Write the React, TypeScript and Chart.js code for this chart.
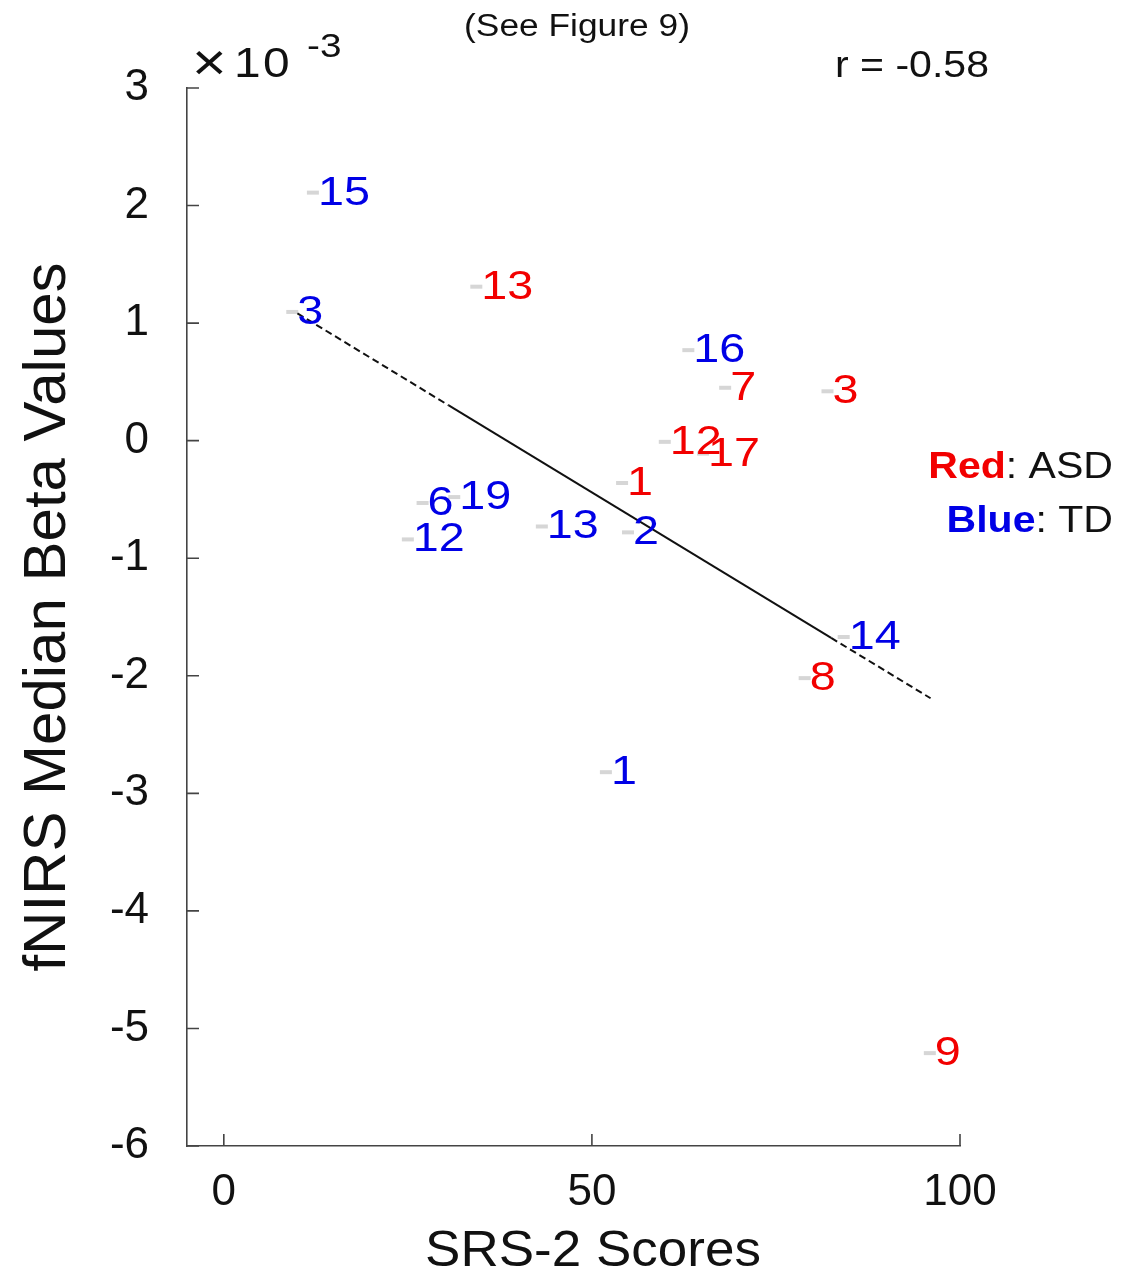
import { useEffect, useRef } from "react";
import { Chart, registerables } from "chart.js";
Chart.register(...registerables);

// ASD (red) participants
const asdLabels = ["13", "7", "3", "12", "17", "1", "8", "9"];
const asdX = [34.3, 68.1, 82.0, 59.9, 65.1, 54.1, 78.9, 95.9];
const asdY = [1.31, 0.45, 0.42, -0.01, -0.11, -0.36, -2.02, -5.21];
// TD (blue) participants
const tdLabels = ["15", "3", "16", "6", "19", "12", "13", "2", "14", "1"];
const tdX = [12.1, 9.3, 63.1, 27.0, 31.3, 25.0, 43.2, 54.9, 84.2, 51.9];
const tdY = [2.11, 1.095, 0.77, -0.53, -0.48, -0.84, -0.73, -0.78, -1.67, -2.82];
// regression line (dashed ends, solid middle)
const fitX = [10, 30.5, 82.5, 96];
const fitY = [1.083, 0.302, -1.678, -2.191];
const xTicks = [0, 50, 100];
const yTicks = [3, 2, 1, 0, -1, -2, -3, -4, -5, -6];

const FONT = "'Liberation Sans', Arial, Helvetica, sans-serif";
const RED = "#f20000";
const BLUE = "#0000e6";
const STRETCH = 1.14;

function stretchedText(
  ctx: CanvasRenderingContext2D,
  text: string,
  x: number,
  y: number,
  align: "left" | "right" | "center" = "left",
  stretch: number = STRETCH
) {
  ctx.save();
  ctx.translate(x, y);
  ctx.scale(stretch, 1);
  ctx.textAlign = align;
  ctx.fillText(text, 0, 0);
  ctx.restore();
}

const decorPlugin = {
  id: "decor",
  afterDatasetsDraw(chart: any) {
    const ctx: CanvasRenderingContext2D = chart.ctx;
    const xs = chart.scales.x;
    const ys = chart.scales.y;
    const area = chart.chartArea;
    // inward ticks
    ctx.save();
    ctx.strokeStyle = "#444";
    ctx.lineWidth = 1.6;
    ctx.beginPath();
    for (const v of xTicks) {
      const px = xs.getPixelForValue(v);
      ctx.moveTo(px, area.bottom);
      ctx.lineTo(px, area.bottom - 12);
    }
    for (const v of yTicks) {
      const py = ys.getPixelForValue(v);
      ctx.moveTo(area.left, py);
      ctx.lineTo(area.left + 12, py);
    }
    ctx.stroke();
    ctx.restore();

    // point labels
    ctx.save();
    ctx.font = `41px ${FONT}`;
    ctx.textBaseline = "alphabetic";
    const groups = [
      { idx: 1, labels: asdLabels, color: RED },
      { idx: 2, labels: tdLabels, color: BLUE },
    ];
    for (const g of groups) {
      const meta = chart.getDatasetMeta(g.idx);
      ctx.fillStyle = g.color;
      meta.data.forEach((el: any, i: number) => {
        stretchedText(ctx, g.labels[i], el.x + 5, el.y + 12);
      });
    }
    ctx.restore();

    // annotations
    ctx.save();
    ctx.fillStyle = "#111";
    ctx.textBaseline = "alphabetic";
    ctx.font = `31px ${FONT}`;
    stretchedText(ctx, "(See Figure 9)", 577, 36, "center");
    ctx.font = `52px ${FONT}`;
    stretchedText(ctx, "\u00d7", 192, 80);
    ctx.font = `42px ${FONT}`;
    stretchedText(ctx, "1", 234, 77);
    stretchedText(ctx, "0", 263, 77);
    ctx.font = `34px ${FONT}`;
    stretchedText(ctx, "-3", 307, 57);
    ctx.font = `36px ${FONT}`;
    stretchedText(ctx, "r = -0.58", 835, 77);

    // x axis title
    ctx.font = `50px ${FONT}`;
    stretchedText(ctx, "SRS-2 Scores", 593, 1266, "center", 1.06);

    // legend
    const legend = [
      { key: "Red", rest: ": ASD", color: RED, y: 478 },
      { key: "Blue", rest: ": TD", color: BLUE, y: 532 },
    ];
    for (const l of legend) {
      ctx.font = `36px ${FONT}`;
      const restW = ctx.measureText(l.rest).width * STRETCH;
      ctx.font = `bold 36px ${FONT}`;
      const keyW = ctx.measureText(l.key).width * STRETCH;
      const right = 1113;
      ctx.fillStyle = l.color;
      stretchedText(ctx, l.key, right - restW - keyW, l.y);
      ctx.font = `36px ${FONT}`;
      ctx.fillStyle = "#111";
      stretchedText(ctx, l.rest, right - restW, l.y);
    }
    ctx.restore();
  },
};

export default function App() {
  const ref = useRef<HTMLCanvasElement | null>(null);
  useEffect(() => {
    if (!ref.current) return;
    const fitPts = fitX.map((x, i) => ({ x, y: fitY[i] }));
    const lineBase = {
      type: "line" as const,
      showLine: true,
      pointRadius: 0,
      borderColor: "#111",
      borderWidth: 2,
      fill: false,
    };
    const pointBase = {
      pointStyle: "line" as const,
      pointRadius: 6,
      pointBorderWidth: 4,
      borderColor: "#d6d6d6",
      backgroundColor: "#d6d6d6",
    };
    const chart = new Chart(ref.current, {
      type: "scatter",
      data: {
        datasets: [
          { ...lineBase, label: "fit-a", data: [fitPts[0], fitPts[1]], borderDash: [7, 4] } as any,
          { ...pointBase, label: "ASD", data: asdX.map((x, i) => ({ x, y: asdY[i] })) } as any,
          { ...pointBase, label: "TD", data: tdX.map((x, i) => ({ x, y: tdY[i] })) } as any,
          { ...lineBase, label: "fit-b", data: [fitPts[1], fitPts[2]] } as any,
          { ...lineBase, label: "fit-c", data: [fitPts[2], fitPts[3]], borderDash: [7, 4] } as any,
        ],
      },
      options: {
        animation: false,
        responsive: false,
        devicePixelRatio: 1,
        layout: { padding: { top: 88, right: 179, left: 0, bottom: 0 } },
        plugins: {
          legend: { display: false },
          tooltip: { enabled: false },
          title: { display: false },
        },
        scales: {
          x: {
            type: "linear",
            min: -5,
            max: 100,
            afterBuildTicks: (s: any) => {
              s.ticks = xTicks.map((v) => ({ value: v }));
            },
            afterFit: (s: any) => {
              s.height = 130;
            },
            grid: { display: false },
            border: { display: true, color: "#444", width: 1.6 },
            ticks: {
              font: { family: FONT, size: 44 },
              color: "#111",
              padding: 12,
              maxRotation: 0,
            },
            title: { display: false },
          },
          y: {
            type: "linear",
            min: -6,
            max: 3,
            afterBuildTicks: (s: any) => {
              s.ticks = yTicks.map((v) => ({ value: v }));
            },
            afterFit: (s: any) => {
              s.width = 187;
            },
            grid: { display: false },
            border: { display: true, color: "#444", width: 1.6 },
            ticks: {
              font: { family: FONT, size: 44 },
              color: "#111",
              padding: 30,
            },
            title: {
              display: true,
              text: "fNIRS Median Beta Values",
              font: { family: FONT, size: 60 },
              color: "#111",
              padding: { top: 12, bottom: 0 },
            },
          },
        },
      },
      plugins: [decorPlugin],
    });
    return () => chart.destroy();
  }, []);
  return (
    <div style={{ position: "absolute", left: 0, top: 0, width: 1139, height: 1276, background: "#fff" }}>
      <canvas ref={ref} width={1139} height={1276} style={{ width: 1139, height: 1276, display: "block" }} />
    </div>
  );
}
